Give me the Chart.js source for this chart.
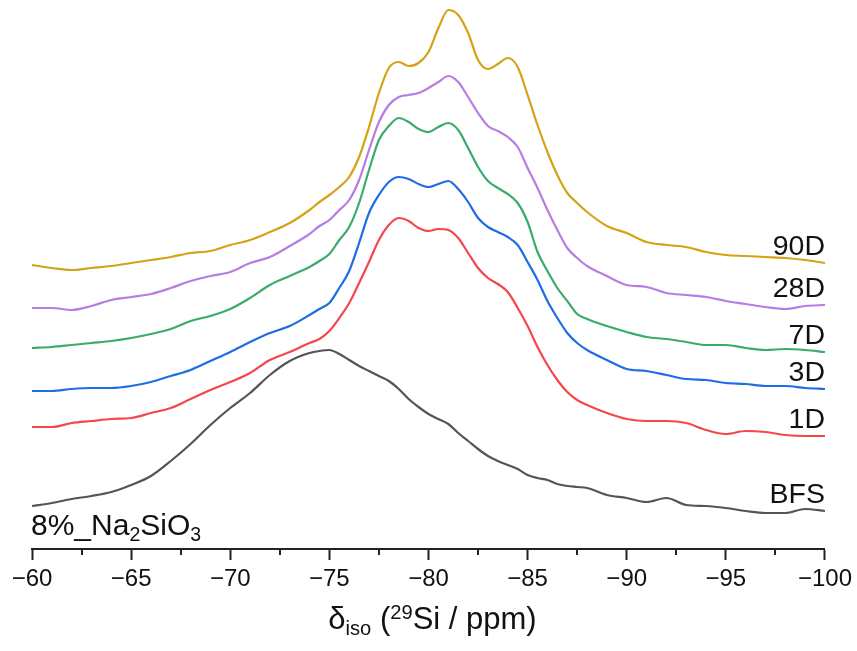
<!DOCTYPE html>
<html>
<head>
<meta charset="utf-8">
<script src="https://cdn.jsdelivr.net/npm/chart.js@4"></script>
<style>
  body { margin: 0; background: #fff; }
  #wrap { position: relative; width: 857px; height: 651px; font-family: 'Liberation Sans', Arial, sans-serif; color: #111; }
  #wrap canvas { position: absolute; left: 0; top: 0; }
  .txt { position: absolute; white-space: nowrap; line-height: 1; }
  .txt sub, .txt sup { font-size: 0.65em; line-height: 0; }
  .txt sub { vertical-align: -0.3em; }
  .txt sup { vertical-align: 0.5em; }
</style>
</head>
<body>
<div id="wrap">
  <canvas id="nmr" width="857" height="651"></canvas>
  <div class="txt" id="sample" style="left:31px; top:510px; font-size:30px;">8%_Na<sub>2</sub>SiO<sub>3</sub></div>
  <div class="txt" id="xtitle" style="left:0; width:857px; text-align:center; top:603px; padding-left:4px; font-size:31px;">δ<sub>iso</sub> (<sup>29</sup>Si / ppm)</div>
</div>
<script>
// chemical shift (ppm), finer spacing through the main band
const ppm = [-60, -61, -62, -63, -64, -65, -66, -67, -68, -69, -70, -71, -72, -73, -74,
  -74.5, -75, -75.5, -76, -76.5, -77, -77.5, -78, -78.5, -79, -79.5, -80, -80.5, -81, -81.5,
  -82, -82.5, -83, -83.5, -84, -84.5, -85, -85.5, -86, -86.5, -87, -87.5, -88,
  -89, -90, -91, -92, -93, -94, -95, -96, -97, -98, -99, -100];

// stacked intensities (a.u., offsets included)
const bfs = [43, 46, 50, 53, 57, 64, 73, 88, 105, 124, 141, 156, 174, 188, 196,
  198, 199, 195, 189, 183, 178, 173, 168, 160, 150, 142, 135, 130, 125, 116,
  108, 100, 93, 88, 84, 80, 74, 71, 69, 65, 63, 62, 61,
  54, 51, 47, 51, 44, 43, 41, 38, 36, 36, 40, 38];
const d1 = [122, 122, 126, 128, 130, 131, 136, 141, 150, 159, 167, 176, 189, 197, 206,
  210, 218, 231, 246, 266, 287, 309, 324, 331, 328, 321, 318, 320, 319, 311,
  296, 281, 271, 265, 257, 241, 223, 202, 184, 169, 157, 149, 144,
  136, 130, 128, 128, 126, 119, 115, 118, 117, 114, 113, 113];
const d3 = [158, 158, 160, 161, 161, 163, 167, 173, 179, 188, 197, 207, 216, 223, 234,
  240, 246, 261, 278, 306, 336, 354, 367, 372, 370, 365, 362, 365, 368, 360,
  347, 331, 322, 317, 312, 304, 287, 269, 248, 231, 216, 206, 199,
  189, 180, 178, 174, 170, 169, 166, 165, 163, 163, 161, 160];
const d7 = [201, 202, 204, 206, 208, 211, 215, 220, 228, 233, 240, 251, 264, 273, 282,
  288, 295, 309, 322, 346, 379, 409, 423, 431, 427, 420, 417, 422, 426, 419,
  401, 382, 368, 361, 355, 346, 327, 297, 278, 261, 248, 235, 230,
  223, 217, 212, 210, 207, 204, 204, 201, 199, 200, 199, 197];
const d28 = [241, 241, 239, 243, 249, 252, 255, 261, 268, 273, 277, 286, 292, 303, 315,
  323, 329, 339, 349, 369, 399, 427, 444, 452, 454, 456, 461, 467, 473, 467,
  452, 436, 423, 418, 412, 402, 381, 361, 339, 319, 301, 291, 283,
  273, 264, 262, 256, 254, 252, 248, 245, 242, 240, 243, 244];
const d90 = [284, 281, 279, 281, 283, 286, 289, 292, 296, 298, 304, 309, 317, 326, 339,
  347, 354, 362, 372, 392, 422, 456, 481, 487, 483, 486, 497, 521, 539, 534,
  516, 489, 480, 485, 491, 482, 454, 424, 397, 374, 356, 346, 337,
  323, 316, 307, 304, 302, 297, 294, 293, 292, 291, 289, 286];

const names = ['BFS', '1D', '3D', '7D', '28D', '90D'];
const series = [bfs, d1, d3, d7, d28, d90];
const colors = ['#555555', '#f4474b', '#1f6de6', '#3aab6b', '#b67de4', '#d4a315'];
const minorTicks = [-62.5, -67.5, -72.5, -77.5, -82.5, -87.5, -92.5, -97.5];

const FONT = "'Liberation Sans', Arial, sans-serif";

const extras = {
  id: 'extras',
  afterDatasetsDraw(chart) {
    const ctx = chart.ctx, x = chart.scales.x, area = chart.chartArea;
    ctx.save();
    // minor ticks
    ctx.strokeStyle = '#222';
    ctx.lineWidth = 2;
    minorTicks.forEach(v => {
      const px = Math.round(x.getPixelForValue(v));
      ctx.beginPath();
      ctx.moveTo(px, area.bottom);
      ctx.lineTo(px, area.bottom + 6);
      ctx.stroke();
    });
    // series labels above the right end of each trace
    ctx.fillStyle = '#111';
    ctx.font = '28.5px ' + FONT;
    ctx.textAlign = 'right';
    ctx.textBaseline = 'alphabetic';
    chart.data.datasets.forEach((ds, i) => {
      const pts = chart.getDatasetMeta(i).data;
      const last = pts[pts.length - 1];
      ctx.fillText(ds.label, area.right, last.y - 8);
    });
    ctx.restore();
  }
};

new Chart(document.getElementById('nmr'), {
  type: 'line',
  data: {
    datasets: series.map((s, i) => ({
      label: names[i],
      data: s.map((v, j) => ({ x: ppm[j], y: v })),
      borderColor: colors[i],
      borderWidth: 2.2,
      pointRadius: 0,
      cubicInterpolationMode: 'monotone',
      fill: false
    }))
  },
  options: {
    responsive: false,
    animation: false,
    layout: { padding: { left: 32, right: 31, top: 0, bottom: 0 } },
    plugins: { legend: { display: false }, tooltip: { enabled: false } },
    scales: {
      x: {
        type: 'linear',
        min: -100,
        max: -60,
        reverse: true,
        afterFit: (scale) => { scale.height = 102; },
        border: { display: true, color: '#222', width: 2 },
        grid: { drawOnChartArea: false, drawTicks: true, tickLength: 11, tickColor: '#222', tickWidth: 2 },
        ticks: {
          stepSize: 5,
          maxRotation: 0,
          autoSkip: false,
          padding: 5,
          color: '#111',
          font: { family: FONT, size: 24 },
          callback: (v) => (v < 0 ? '\u2212' + Math.abs(v) : String(v))
        }
      },
      y: { display: false, min: 0, max: 549 }
    }
  },
  plugins: [extras]
});
</script>
</body>
</html>
